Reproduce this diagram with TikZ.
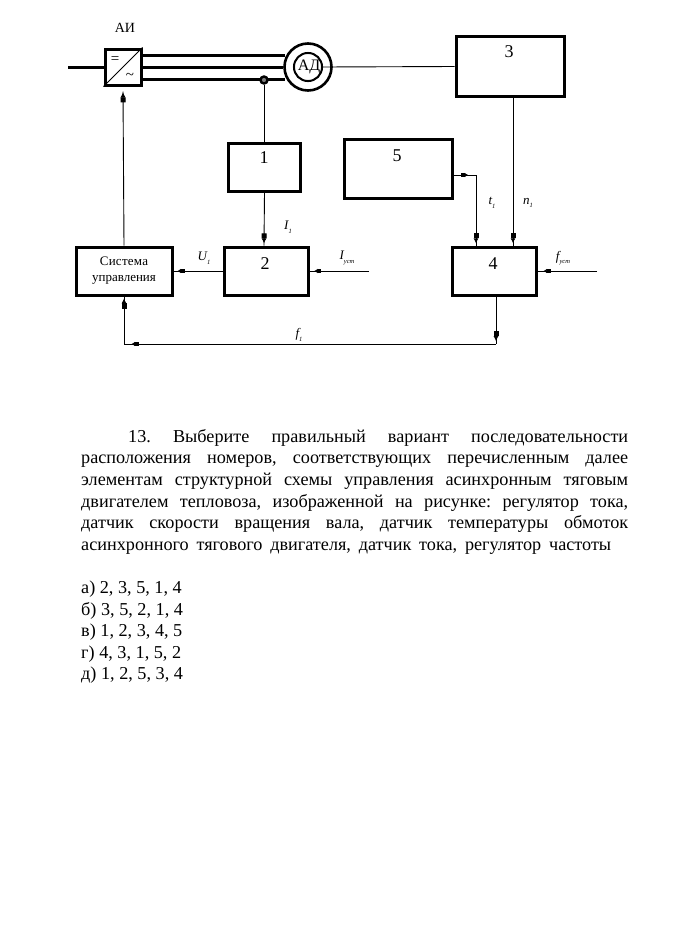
\documentclass[tikz,border=0pt]{standalone}
\usepackage{fontspec}
\setmainfont{Liberation Serif}
\usetikzlibrary{arrows.meta,decorations.markings,calc}
\newcommand{\sig}[2]{{\itshape #1\raisebox{-3.5pt}{\fontsize{6.5}{7}\selectfont #2}}}
\tikzset{
  x=1pt,y=-1pt,
  blk/.style={draw=black,line width=3pt,fill=white,inner sep=0pt,minimum width=#1},
  num/.style={font=\fontsize{18}{20}\selectfont,inner sep=0pt},
  sigl/.style={font=\fontsize{13}{14}\selectfont,inner sep=0pt},
  wire/.style={draw=black,line width=0.9pt},
  power/.style={draw=black,line width=3pt},
  blob at/.style={postaction={decorate,decoration={markings,mark=at position #1 with {\arrow{Rectangle[length=3.5pt,width=4.5pt] Latex[length=3.5pt,width=4.5pt]}}}}},
  vblob at/.style={postaction={decorate,decoration={markings,mark=at position #1 with {\arrow{Rectangle[length=5pt,width=5pt] Latex[length=5pt,width=5pt]}}}}},
}
\begin{document}
\begin{tikzpicture}
\useasboundingbox (0,0) rectangle (673,937);
\fill[white] (0,0) rectangle (673,937);
% blocks
\node[blk=36pt,minimum height=36pt] (ai) at (123,67) {};
\node[blk=108pt,minimum height=60pt] (b3) at (510,66.5) {};
\node[blk=72pt,minimum height=48pt] (b1) at (264,167) {};
\node[blk=108pt,minimum height=59pt] (b5) at (398,168.5) {};
\node[blk=96pt,minimum height=48pt,align=center,font=\fontsize{13}{16}\selectfont] (su) at (124,271) {\addfontfeatures{LetterSpace=2}Система\\управления};
\node[blk=84pt,minimum height=48pt] (b2) at (266,271) {};
\node[blk=84pt,minimum height=48pt] (b4) at (494,271) {};
\node[num] (t1) at (264,158) {1};
\node[num] (t2) at (265,264) {2};
\node[num] (t3) at (509,52) {3};
\node[num] (t4) at (493,264) {4};
\node[num] (t5) at (397,156) {5};
% inverter
\draw[wire] (ai.south west) -- (ai.north east);
\node[inner sep=0pt,font=\fontsize{15}{15}\selectfont] (aieq) at (115,60) {=};
\node[inner sep=0pt,font=\fontsize{15}{15}\selectfont] (aiac) at (130,76) {\textasciitilde};
\node[inner sep=0pt,font=\fontsize{14}{16}\selectfont] (ailab) at (125,28) {АИ};
% motor
\coordinate (in) at (68,67);
\draw[power] (in) -- (ai.west);
\node[circle,draw=black,line width=2.6pt,minimum size=47pt,inner sep=0pt,fill=white] (ad) at (308,67) {};
\draw[power] (ai.east) -- (ad.west);
\draw[power] ([yshift=12pt]ai.east) -- ([yshift=12pt,xshift=2pt]ad.west);
\draw[power] ([yshift=-12pt]ai.east) -- ([yshift=-12pt,xshift=2pt]ad.west);
\node[circle,draw=black,line width=2pt,minimum size=28pt,inner sep=0pt,font=\fontsize{16}{16}\selectfont] (adi) at (308,67) {\hspace{2pt}АД};
\node[circle,draw=black,line width=2.4pt,minimum size=7pt,inner sep=0pt,fill=black!50] (sens) at (264,80) {};
% connectors
\draw[wire] (adi.east) -- (b3.west);
\draw[wire] (sens.south) -- (b1.north);
\draw[wire,vblob at=0.96] ([xshift=0.5pt]b1.south) -- (b1.south |- b2.north);
\draw[wire,vblob at=0.995] (su.north) -- ($(ai.south)+(0,5)$);
\draw[wire,blob at=0.92] (b2.west) -- (su.east);
\coordinate (iu) at (369,271);
\coordinate (fu) at (597,271);
\draw[wire,blob at=0.92] (iu) -- (b2.east);
\draw[wire,blob at=0.9] (fu) -- (b4.east);
\coordinate (c5) at (476,175);
\draw[wire,vblob at=0.97] (c5) -- (c5 |- b4.north);
\draw[wire,blob at=0.65] (b5.east |- c5) -- (c5);
\coordinate (n3) at (513,97);
\draw[wire,vblob at=0.985] (n3) -- (n3 |- b4.north);
\coordinate (f0) at (496,344);
\coordinate (f1) at (124,344);
\draw[wire,vblob at=0.94] (f0 |- b4.south) -- (f0);
\draw[wire,blob at=0.98] (f0) -- (f1);
\draw[wire,vblob at=0.96] (f1) -- (su.south);
% signal labels
\node[sigl] (li) at (288,227) {\sig{I}{1}};
\node[sigl] (lu) at (204,258) {\sig{U}{1}};
\node[sigl] (liu) at (347,258) {\sig{I}{уст}};
\node[sigl] (lf) at (299,335) {\sig{f}{1}};
\node[sigl] (lt) at (492,203) {\sig{t}{1}};
\node[sigl] (ln) at (528,203) {\sig{n}{1}};
\node[sigl] (lfu) at (563,258) {\sig{f}{уст}};
% question text
\node[anchor=north west,inner sep=0pt,text width=547pt,align=justify,font=\fontsize{18.2}{21.6}\selectfont] (q) at (81,429) {%
\frenchspacing\hspace*{47pt}13. Выберите правильный вариант последовательности\linebreak
расположения номеров, соответствующих перечисленным далее\linebreak
элементам структурной схемы управления асинхронным тяговым\linebreak
двигателем тепловоза, изображенной на рисунке: регулятор тока,\linebreak
датчик скорости вращения вала, датчик температуры обмоток\linebreak
\makebox[530pt][s]{асинхронного тягового двигателя, датчик тока, регулятор частоты}\par
\vspace{21.6pt}\noindent
а) 2, 3, 5, 1, 4\\
б) 3, 5, 2, 1, 4\\
в) 1, 2, 3, 4, 5\\
г) 4, 3, 1, 5, 2\\
д) 1, 2, 5, 3, 4};
\end{tikzpicture}
\end{document}
